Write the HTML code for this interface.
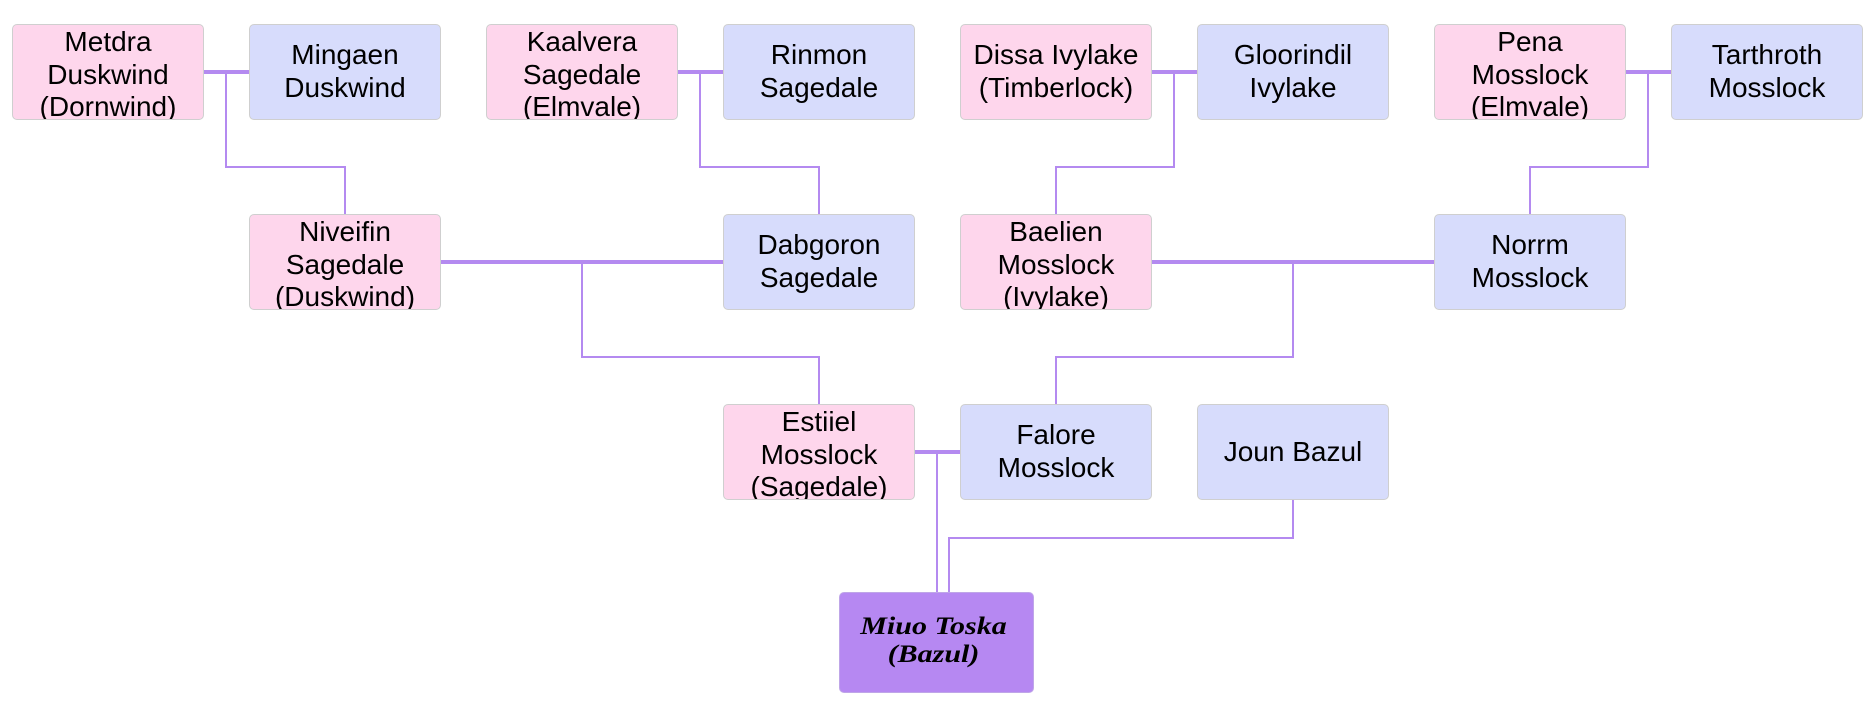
<!DOCTYPE html>
<html>
<head>
<meta charset="utf-8">
<style>
  html, body { margin: 0; padding: 0; background: #ffffff; }
  body { width: 1875px; height: 708px; position: relative; overflow: hidden; }
  svg.lines { position: absolute; left: 0; top: 0; }
  .box {
    position: absolute;
    width: 190px; height: 94px;
    border: 1px solid #cfcfcf;
    border-radius: 5px;
    overflow: hidden;
    box-sizing: content-box;
  }
  .f { background: #fed6ec; }
  .m { background: #d7dcfc; }
  .t {
    position: absolute; left: -1px; width: 192px;
    text-align: center;
    font-family: "Liberation Sans", Arial, sans-serif;
    font-size: 28px;
    line-height: 32.7px;
    color: #000;
    white-space: nowrap;
  }
  .l3 { top: 1px; }
  .l2 { top: 14.3px; }
  .l1 { top: 30.6px; }
  .me {
    position: absolute;
    left: 839px; top: 592px; width: 193px; height: 99px;
    background: #b688f2;
    border: 1px solid #bfa6e8;
    border-radius: 5px;
    overflow: hidden;
  }
  .me .t {
    left: -4px;
    width: 195px;
    font-family: "Liberation Serif", "Times New Roman", serif;
    font-weight: bold; font-style: italic;
    font-size: 25px; line-height: 28px;
    top: 19.5px;
    transform: scaleX(1.2);
    transform-origin: 50% 50%;
  }
</style>
</head>
<body>
<svg class="lines" width="1875" height="708" viewBox="0 0 1875 708">
  <g fill="none" stroke="#b48af0" stroke-width="2" shape-rendering="crispEdges">
    <path d="M226 72 V167 H345 V214"/>
    <path d="M700 72 V167 H819 V214"/>
    <path d="M1174 72 V167 H1056 V214"/>
    <path d="M1648 72 V167 H1530 V214"/>
    <path d="M582 262 V357 H819 V404"/>
    <path d="M1293 262 V357 H1056 V404"/>
    <path d="M937 452 V592"/>
    <path d="M1293 500 V538 H949 V592"/>
  </g>
  <g fill="none" stroke="#b48af0" stroke-width="4" shape-rendering="crispEdges">
    <path d="M204 72 H249"/>
    <path d="M678 72 H723"/>
    <path d="M1152 72 H1197"/>
    <path d="M1626 72 H1671"/>
    <path d="M441 262 H723"/>
    <path d="M1152 262 H1434"/>
    <path d="M915 452 H960"/>
  </g>
</svg>

<!-- Row 1 -->
<div class="box f" style="left:12px;top:24px;"><div class="t l3">Metdra<br>Duskwind<br>(Dornwind)</div></div>
<div class="box m" style="left:249px;top:24px;"><div class="t l2">Mingaen<br>Duskwind</div></div>
<div class="box f" style="left:486px;top:24px;"><div class="t l3">Kaalvera<br>Sagedale<br>(Elmvale)</div></div>
<div class="box m" style="left:723px;top:24px;"><div class="t l2">Rinmon<br>Sagedale</div></div>
<div class="box f" style="left:960px;top:24px;"><div class="t l2">Dissa Ivylake<br>(Timberlock)</div></div>
<div class="box m" style="left:1197px;top:24px;"><div class="t l2">Gloorindil<br>Ivylake</div></div>
<div class="box f" style="left:1434px;top:24px;"><div class="t l3">Pena<br>Mosslock<br>(Elmvale)</div></div>
<div class="box m" style="left:1671px;top:24px;"><div class="t l2">Tarthroth<br>Mosslock</div></div>

<!-- Row 2 -->
<div class="box f" style="left:249px;top:214px;"><div class="t l3">Niveifin<br>Sagedale<br>(Duskwind)</div></div>
<div class="box m" style="left:723px;top:214px;"><div class="t l2">Dabgoron<br>Sagedale</div></div>
<div class="box f" style="left:960px;top:214px;"><div class="t l3">Baelien<br>Mosslock<br>(Ivylake)</div></div>
<div class="box m" style="left:1434px;top:214px;"><div class="t l2">Norrm<br>Mosslock</div></div>

<!-- Row 3 -->
<div class="box f" style="left:723px;top:404px;"><div class="t l3">Estiiel<br>Mosslock<br>(Sagedale)</div></div>
<div class="box m" style="left:960px;top:404px;"><div class="t l2">Falore<br>Mosslock</div></div>
<div class="box m" style="left:1197px;top:404px;"><div class="t l1">Joun Bazul</div></div>

<!-- Self -->
<div class="me"><div class="t">Miuo Toska<br>(Bazul)</div></div>
</body>
</html>
